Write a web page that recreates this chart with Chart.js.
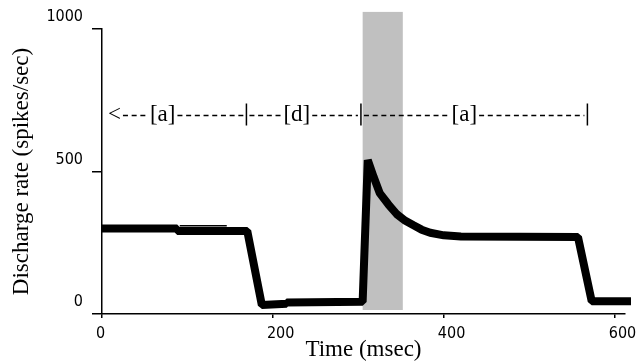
<!DOCTYPE html>
<html>
<head>
<meta charset="utf-8">
<script src="https://cdn.jsdelivr.net/npm/chart.js@4.4.1/dist/chart.umd.min.js"></script>
<style>
  body { margin: 0; background: #fff; }
</style>
</head>
<body>
<canvas id="myChart" width="641" height="362"></canvas>
<script>
// discharge rate trace
var timeMs = [0, 88, 88, 170, 187, 216, 216, 305, 311, 318, 325, 335, 345, 355, 364, 374, 384, 400, 420, 557, 573, 619];
var rate = [300, 300, 291, 291, 32, 36, 40, 43, 540, 480, 424, 385, 350, 327, 312, 296, 285, 276, 272, 270, 45, 45];

// thin line over the first plateau
var thinTimeMs = [91, 146];
var thinRate = [310, 310];

// grey band
var bandTimeMs = [305, 352];
var bandRate = [14, 1060];

// phase annotation row
var phaseY = 700;
var phaseStartMs = 7;
var phaseBarsMs = [169, 303, 568];
var phaseLabels = ['[a]', '[d]', '[a]'];
var phaseLabelMs = [71, 228, 424];

var xTicks = [0, 200, 400, 600];
var yTicks = [0, 500, 1000];

var tickFont = { family: "'Liberation Sans Narrow', 'DejaVu Sans Condensed', 'Liberation Sans', Arial", size: 16 };
var titleFont = { family: "'Liberation Serif', 'Times New Roman', serif", size: 23, lineHeight: 1 };

var bandPlugin = {
    id: 'band',
    beforeDatasetsDraw: function (chart) {
        var xs = chart.scales.x, ys = chart.scales.y, ctx = chart.ctx;
        var x0 = xs.getPixelForValue(bandTimeMs[0]), x1 = xs.getPixelForValue(bandTimeMs[1]);
        var y0 = ys.getPixelForValue(bandRate[1]), y1 = ys.getPixelForValue(bandRate[0]);
        ctx.save();
        ctx.fillStyle = '#c0c0c0';
        ctx.fillRect(x0, y0, x1 - x0, y1 - y0);
        ctx.restore();
    }
};

var phasePlugin = {
    id: 'phases',
    afterDatasetsDraw: function (chart) {
        var xs = chart.scales.x, ys = chart.scales.y, ctx = chart.ctx;
        var py = ys.getPixelForValue(phaseY);
        ctx.save();
        ctx.font = "23px 'Liberation Serif'";
        ctx.fillStyle = '#000';
        ctx.strokeStyle = '#000';
        ctx.textBaseline = 'middle';
        var pieces = [];
        var sx = xs.getPixelForValue(phaseStartMs);
        ctx.textAlign = 'left';
        ctx.fillText('<', sx, py);
        pieces.push([sx, sx + ctx.measureText('<').width]);
        ctx.textAlign = 'center';
        phaseLabels.forEach(function (t, i) {
            var cx = xs.getPixelForValue(phaseLabelMs[i]);
            var w = ctx.measureText(t).width;
            ctx.fillText(t, cx, py);
            pieces.push([cx - w / 2, cx + w / 2]);
        });
        ctx.lineWidth = 1.5;
        phaseBarsMs.forEach(function (m) {
            var bx = xs.getPixelForValue(m);
            ctx.beginPath();
            ctx.moveTo(bx, py - 11);
            ctx.lineTo(bx, py + 11);
            ctx.stroke();
            pieces.push([bx - 1, bx + 1]);
        });
        pieces.sort(function (a, b) { return a[0] - b[0]; });
        ctx.lineWidth = 1.3;
        ctx.setLineDash([5, 3.7]);
        for (var i = 0; i < pieces.length - 1; i++) {
            ctx.beginPath();
            ctx.moveTo(pieces[i][1] + 2, py + 1);
            ctx.lineTo(pieces[i + 1][0] - 2, py + 1);
            ctx.stroke();
        }
        ctx.restore();
    }
};

var ctx = document.getElementById('myChart').getContext('2d');

var myChart = new Chart(ctx, {
    type: 'line',
    data: {
        datasets: [{
            data: timeMs.map(function (t, i) { return { x: t, y: rate[i] }; }),
            borderColor: '#000',
            borderWidth: 8,
            borderJoinStyle: 'bevel',
            pointRadius: 0,
            tension: 0,
            clip: false
        }, {
            data: thinTimeMs.map(function (t, i) { return { x: t, y: thinRate[i] }; }),
            borderColor: '#000',
            borderWidth: 1.5,
            pointRadius: 0
        }]
    },
    options: {
        responsive: false,
        animation: false,
        events: [],
        layout: { padding: { top: 29, right: 16, left: 0, bottom: 0 } },
        plugins: { legend: { display: false }, tooltip: { enabled: false } },
        scales: {
            x: {
                type: 'linear',
                min: 0,
                max: 612,
                afterBuildTicks: function (s) { s.ticks = xTicks.map(function (v) { return { value: v }; }); },
                afterFit: function (s) { s.height = 48; s.paddingLeft = 0; s.paddingRight = 0; },
                ticks: { font: tickFont, color: '#000', align: 'start', labelOffset: -6, padding: 6, maxRotation: 0,
                    callback: function (v) { return String(v); } },
                grid: { drawOnChartArea: false, tickLength: 4, color: '#000', lineWidth: 1.5 },
                border: { color: '#000', width: 1.5 },
                title: { display: true, text: 'Time (msec)', font: titleFont, color: '#000', padding: { top: 0, bottom: 1 } }
            },
            y: {
                min: 0,
                max: 1000,
                afterBuildTicks: function (s) { s.ticks = yTicks.map(function (v) { return { value: v }; }); },
                afterFit: function (s) { s.width = 102; s.paddingTop = 0; s.paddingBottom = 0; },
                ticks: { font: tickFont, color: '#000', labelOffset: -12, padding: 9,
                    callback: function (v) { return String(v); } },
                grid: { drawOnChartArea: false, tickLength: 10, color: '#000', lineWidth: 1.5 },
                border: { color: '#000', width: 1.5 },
                title: { display: true, text: 'Discharge rate (spikes/sec)', font: titleFont, color: '#000', padding: { top: 10, bottom: 0 } }
            }
        }
    },
    plugins: [bandPlugin, phasePlugin]
});
</script>
</body>
</html>
